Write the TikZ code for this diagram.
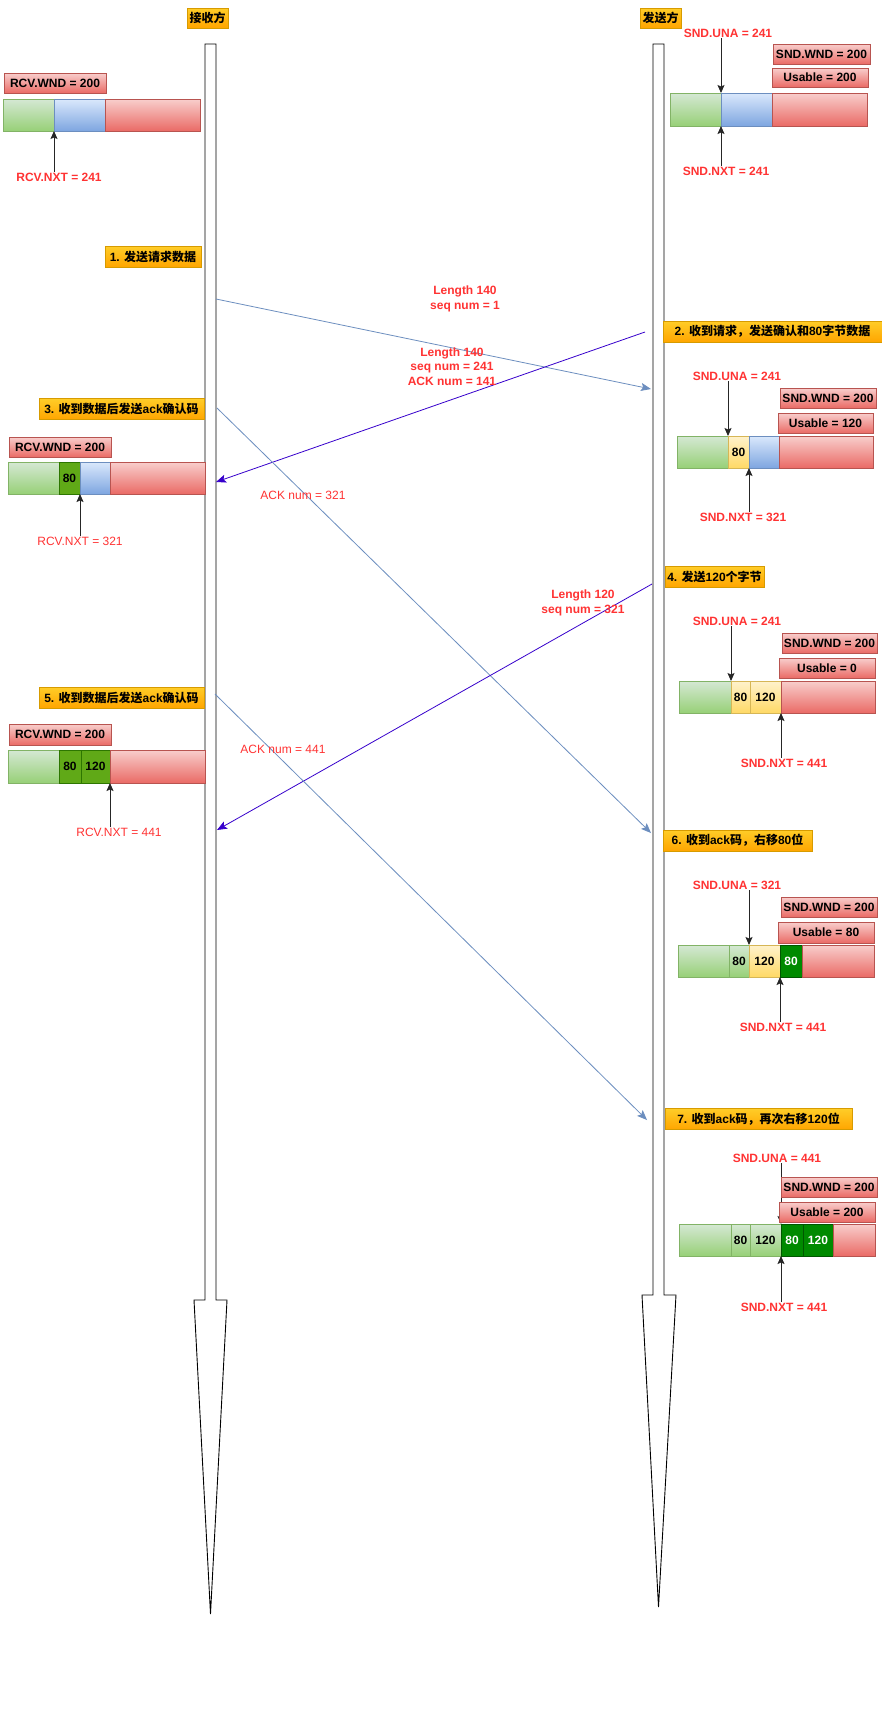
\documentclass[tikz,border=0pt]{standalone}
\usepackage{fontspec}
\setmainfont{Liberation Sans}
\newfontfamily\cjk{Noto Sans CJK SC}
\usepackage{tikz}
\usetikzlibrary{arrows.meta,calc}
\definecolor{redtxt}{HTML}{FF3333}
\definecolor{msgblue}{HTML}{6C8EBF}
\definecolor{msgpurple}{HTML}{3700CC}
\definecolor{orgtop}{HTML}{FFCD28}
\definecolor{orgbot}{HTML}{FFA500}
\definecolor{orgline}{HTML}{D79B00}
\definecolor{redtop}{HTML}{F8CECC}
\definecolor{redbot}{HTML}{EA6B66}
\definecolor{redline}{HTML}{B85450}
\definecolor{grntop}{HTML}{D5E8D4}
\definecolor{grnbot}{HTML}{97D077}
\definecolor{grnline}{HTML}{82B366}
\definecolor{blutop}{HTML}{DAE8FC}
\definecolor{blubot}{HTML}{7EA6E0}
\definecolor{bluline}{HTML}{6C8EBF}
\definecolor{yeltop}{HTML}{FFF2CC}
\definecolor{yelbot}{HTML}{FFD966}
\definecolor{yelline}{HTML}{D6B656}
\definecolor{rcvgrn}{HTML}{60A917}
\definecolor{rcvline}{HTML}{2D7600}
\definecolor{sndgrn}{HTML}{008A00}
\definecolor{sndline}{HTML}{005700}
\newcommand{\cn}[1]{{\cjk #1}}
\tikzset{
  font=\fontsize{12}{14.5}\selectfont,
  >={Stealth[length=8pt, width=7pt, inset=1.5pt]},
  life/.style    = {draw=black, fill=white, line width=0.9pt, line join=miter},
  hdr/.style     = {draw=orgline, top color=orgtop, bottom color=orgbot,
                    minimum width=41, minimum height=20, inner sep=1pt,
                    font=\fontsize{12}{14.5}\selectfont\bfseries},
  stepbox/.style = {draw=orgline, top color=orgtop, bottom color=orgbot,
                    minimum height=21, inner sep=1pt,
                    font=\fontsize{12}{14.5}\selectfont\bfseries},
  wnd/.style     = {draw=redline, top color=redtop, bottom color=redbot,
                    minimum height=20, inner sep=1pt,
                    font=\fontsize{12}{14.5}\selectfont\bfseries},
  cell/.style    = {rectangle, anchor=north west, inner sep=0pt, outer sep=0pt,
                    minimum height=32, font=\fontsize{12}{14.5}\selectfont\bfseries},
  gcell/.style   = {cell, draw=grnline, top color=grntop, bottom color=grnbot},
  bcell/.style   = {cell, draw=bluline, top color=blutop, bottom color=blubot},
  rcell/.style   = {cell, draw=redline, top color=redtop, bottom color=redbot},
  ycell/.style   = {cell, draw=yelline, top color=yeltop, bottom color=yelbot},
  dgcell/.style  = {cell, draw=rcvline, fill=rcvgrn},
  ddcell/.style  = {cell, draw=sndline, fill=sndgrn, text=white},
  lbl/.style     = {text=redtxt, inner sep=1pt, align=center,
                    font=\fontsize{12}{14.5}\selectfont\bfseries},
  lbln/.style    = {text=redtxt, inner sep=1pt, align=center},
  ptr/.style     = {->, draw=black!85, line width=0.9pt},
  msgb/.style    = {-{Stealth[length=10pt, width=8pt, inset=2pt]}, draw=msgblue, line width=0.8pt},
  msgp/.style    = {-{Stealth[length=10pt, width=8pt, inset=2pt]}, draw=msgpurple, line width=0.8pt},
}

\begin{document}
\begin{tikzpicture}[x=1pt, y=-1pt]
\path[fill=white] (0,0) rectangle (882,1735);
\useasboundingbox (0,0) rectangle (882,1735);

% ---- the two lifelines --------------------------------------------------
\draw[life] (205,44) -- (216,44) -- (216,1300) -- (227,1300) -- (210.5,1614)
  -- (194,1300) -- (205,1300) -- cycle;
\draw[life] (653,44) -- (664,44) -- (664,1295) -- (676,1295) -- (658.5,1607)
  -- (642,1295) -- (653,1295) -- cycle;

\node[hdr] (rhead) at (207.5,18) {\cn{接收方}};
\node[hdr] (shead) at (660.5,18) {\cn{发送方}};

% ---- receiver, start --------------------------------------------------
\node[wnd, minimum width=102] (r0w) at (55,83) {RCV.WND = 200};
\node[gcell, minimum width=51] (r0g) at (3,99) {};
\node[bcell, minimum width=51] (r0b) at (r0g.north east) {};
\node[rcell, minimum width=95] (r0r) at (r0b.north east) {};
\node[lbl] (rn0) at (59,177) {RCV.NXT = 241};
\draw[ptr] (rn0.north -| r0g.south east) -- (r0g.south east);

% ---- sender, start ----------------------------------------------------
\node[lbl] (su0) at (728,33) {SND.UNA = 241};
\node[gcell, minimum width=51, minimum height=33] (s0g) at (670,93) {};
\node[bcell, minimum width=51, minimum height=33] (s0b) at (s0g.north east) {};
\node[rcell, minimum width=95, minimum height=33] (s0r) at (s0b.north east) {};
\node[lbl] (sn0) at (726,171) {SND.NXT = 241};
\draw[ptr] (su0.south -| s0g.north east) -- (s0g.north east);
\draw[ptr] (sn0.north -| s0g.south east) -- (s0g.south east);
\node[wnd, minimum width=97] (s0w) at (821.5,54) {SND.WND = 200};
\node[wnd, minimum width=96, minimum height=19] (s0u) at (820,77.5) {Usable = 200};

% ---- step labels ------------------------------------------------------
\node[stepbox, minimum width=96]  (st1) at (153,256.5)  {1. \cn{发送请求数据}};
\node[stepbox, minimum width=219] (st2) at (772.5,331.5) {2. \cn{收到请求，发送确认和}80\cn{字节数据}};
\node[stepbox, minimum width=165] (st3) at (121.5,409)  {3. \cn{收到数据后发送}ack\cn{确认码}};
\node[stepbox, minimum width=99]  (st4) at (714.5,576.5) {4. \cn{发送}120\cn{个字节}};
\node[stepbox, minimum width=165] (st5) at (121.5,697.5) {5. \cn{收到数据后发送}ack\cn{确认码}};
\node[stepbox, minimum width=149] (st6) at (737.5,840.5) {6. \cn{收到}ack\cn{码，右移}80\cn{位}};
\node[stepbox, minimum width=187] (st7) at (758.5,1119)  {7. \cn{收到}ack\cn{码，再次右移}120\cn{位}};

% ---- sender after step 2 ----------------------------------------------
\node[lbl] (su2) at (737,376) {SND.UNA = 241};
\node[wnd, minimum width=96] (s2w) at (828,398) {SND.WND = 200};
\node[wnd, minimum width=95] (s2u) at (825.5,423) {Usable = 120};
\node[gcell, minimum width=51] (s2g) at (677,436) {};
\node[ycell, minimum width=21] (s2y) at (s2g.north east) {80};
\node[bcell, minimum width=30] (s2b) at (s2y.north east) {};
\node[rcell, minimum width=94] (s2r) at (s2b.north east) {};
\node[lbl] (sn2) at (743,517) {SND.NXT = 321};
\draw[ptr] (su2.south -| s2g.north east) -- (s2g.north east);
\draw[ptr] (sn2.north -| s2y.south east) -- (s2y.south east);

% ---- receiver after step 3 --------------------------------------------
\node[wnd, minimum width=102] (r3w) at (60,447) {RCV.WND = 200};
\node[gcell, minimum width=51] (r3g) at (8,462) {};
\node[dgcell, minimum width=21] (r3d) at (r3g.north east) {80};
\node[bcell, minimum width=30] (r3b) at (r3d.north east) {};
\node[rcell, minimum width=95] (r3r) at (r3b.north east) {};
\node[lbln] (rn3) at (80,541) {RCV.NXT = 321};
\draw[ptr] (rn3.north -| r3d.south east) -- (r3d.south east);

% ---- sender after step 4 ----------------------------------------------
\node[lbl] (su4) at (737,621) {SND.UNA = 241};
\node[wnd, minimum width=95] (s4w) at (829.5,643) {SND.WND = 200};
\node[wnd, minimum width=96] (s4u) at (827,668) {Usable = 0};
\node[gcell, minimum width=52] (s4g) at (679,681) {};
\node[ycell, minimum width=19] (s4y) at (s4g.north east) {80};
\node[ycell, minimum width=31] (s4z) at (s4y.north east) {120};
\node[rcell, minimum width=94] (s4r) at (s4z.north east) {};
\node[lbl] (sn4) at (784,763) {SND.NXT = 441};
\draw[ptr] (su4.south -| s4g.north east) -- (s4g.north east);
\draw[ptr] (sn4.north -| s4z.south east) -- (s4z.south east);

% ---- receiver after step 5 --------------------------------------------
\node[wnd, minimum width=102, minimum height=21] (r5w) at (60,734.5) {RCV.WND = 200};
\node[gcell, minimum width=51, minimum height=33] (r5g) at (8,750) {};
\node[dgcell, minimum width=22, minimum height=33] (r5d) at (r5g.north east) {80};
\node[dgcell, minimum width=29, minimum height=33] (r5e) at (r5d.north east) {120};
\node[rcell, minimum width=95, minimum height=33] (r5r) at (r5e.north east) {};
\node[lbln] (rn5) at (119,832) {RCV.NXT = 441};
\draw[ptr] (rn5.north -| r5e.south east) -- (r5e.south east);

% ---- sender after step 6 ----------------------------------------------
\node[lbl] (su6) at (737,885) {SND.UNA = 321};
\node[wnd, minimum width=96] (s6w) at (829,907) {SND.WND = 200};
\node[wnd, minimum width=96, minimum height=21] (s6u) at (826,932.5) {Usable = 80};
\node[gcell, minimum width=51] (s6g) at (678,945) {};
\node[gcell, minimum width=20] (s6h) at (s6g.north east) {80};
\node[ycell, minimum width=31] (s6y) at (s6h.north east) {120};
\node[ddcell, minimum width=22] (s6d) at (s6y.north east) {80};
\node[rcell, minimum width=72] (s6r) at (s6d.north east) {};
\node[lbl] (sn6) at (783,1027) {SND.NXT = 441};
\draw[ptr] (su6.south -| s6h.north east) -- (s6h.north east);
\draw[ptr] (sn6.north -| s6y.south east) -- (s6y.south east);

% ---- sender after step 7 ----------------------------------------------
\node[lbl] (su7) at (777,1158) {SND.UNA = 441};
\node[gcell, minimum width=52] (s7g) at (679,1224) {};
\node[gcell, minimum width=19] (s7h) at (s7g.north east) {80};
\node[gcell, minimum width=31] (s7i) at (s7h.north east) {120};
\node[ddcell, minimum width=22] (s7d) at (s7i.north east) {80};
\node[ddcell, minimum width=30] (s7e) at (s7d.north east) {120};
\node[rcell, minimum width=42] (s7r) at (s7e.north east) {};
\node[lbl] (sn7) at (784,1307) {SND.NXT = 441};
\draw[ptr] (su7.south -| s7i.north east) -- (s7i.north east);
\draw[ptr] (sn7.north -| s7i.south east) -- (s7i.south east);
% the window boxes sit over the pointer here
\node[wnd, minimum width=96] (s7w) at (829,1187) {SND.WND = 200};
\node[wnd, minimum width=96] (s7u) at (827,1212) {Usable = 200};

% ---- messages ---------------------------------------------------------
\coordinate (m1a) at (216,299);  \coordinate (m1b) at (651,389);
\coordinate (m2a) at (645,332);  \coordinate (m2b) at (216,482);
\coordinate (m3a) at (217,408);  \coordinate (m3b) at (651,833);
\coordinate (m4a) at (652,584);  \coordinate (m4b) at (217,830);
\coordinate (m5a) at (215,694);  \coordinate (m5b) at (647,1120);

\draw[msgb] (m1a) -- (m1b);
\draw[msgp] (m2a) -- (m2b);
\draw[msgb] (m3a) -- (m3b);
\draw[msgp] (m4a) -- (m4b);
\draw[msgb] (m5a) -- (m5b);

\node[lbl] (t1) at (465,299) {Length 140\\seq num = 1};
\node[lbl] (t2) at (452,366.5) {Length 140\\seq num = 241\\ACK num = 141};
\node[lbln] (t3) at (303,495) {ACK num = 321};
\node[lbl] (t4) at (583,603) {Length 120\\seq num = 321};
\node[lbln] (t5) at (283,749) {ACK num = 441};

\end{tikzpicture}
\end{document}
